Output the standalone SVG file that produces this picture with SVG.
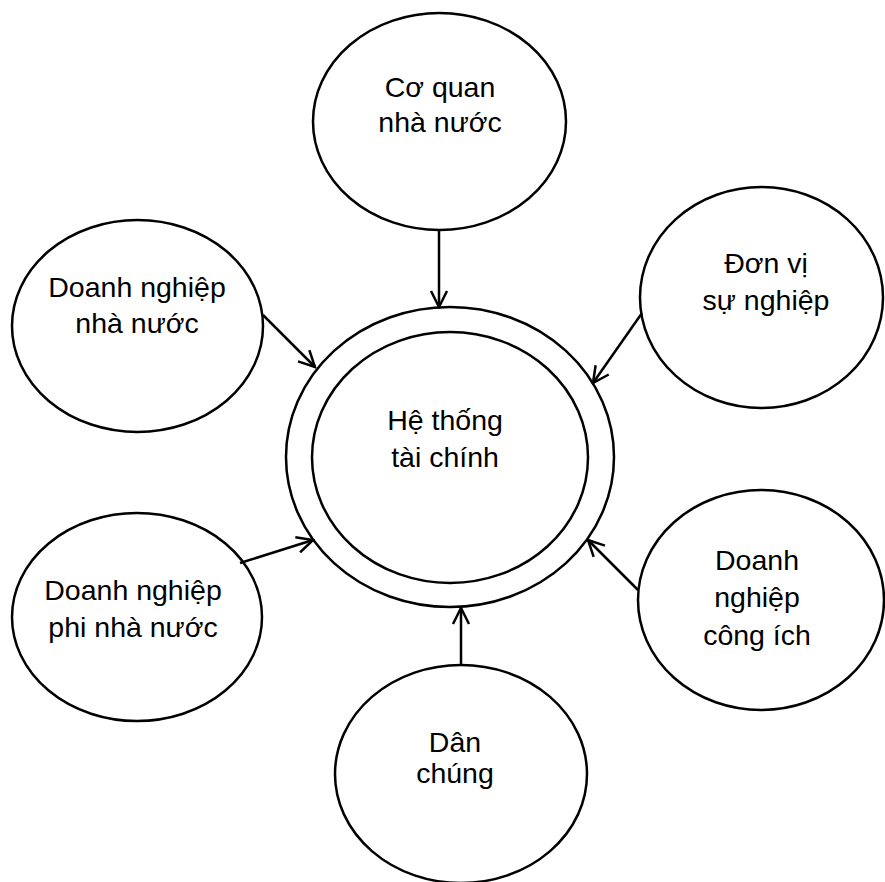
<svg xmlns="http://www.w3.org/2000/svg" width="885" height="882" viewBox="0 0 885 882">
<style>
.n{fill:#fff;stroke:#000;stroke-width:2.5}
.t{font-family:"Liberation Sans",Arial,sans-serif;font-size:28.5px;fill:#000;text-anchor:middle}
.c{font-size:28.5px}
.e{stroke:#000;stroke-width:2.5;fill:none}
</style>
<defs>
<marker id="ah" markerUnits="userSpaceOnUse" markerWidth="22" markerHeight="22" viewBox="-20 -11 22 22" refX="0" refY="0" orient="auto">
<path d="M-16,-8 L0,0 L-16,8" fill="none" stroke="#000" stroke-width="2.5"/>
</marker>
</defs>
<rect width="885" height="882" fill="#fff"/>
<g id="center">
<ellipse class="n" cx="450" cy="457" rx="164" ry="150"/>
<ellipse class="n" cx="450" cy="457.5" rx="138" ry="125.5"/>
<text class="t c" x="445" y="430">Hệ thống</text>
<text class="t c" x="445" y="467">tài chính</text>
</g>
<g id="co-quan">
<ellipse class="n" cx="439.5" cy="121.5" rx="126.5" ry="108.5"/>
<text class="t" x="440" y="97">Cơ quan</text>
<text class="t" x="440" y="132">nhà nước</text>
</g>
<g id="dn-nha-nuoc">
<ellipse class="n" cx="137.5" cy="326" rx="125.5" ry="106"/>
<text class="t" x="137" y="297">Doanh nghiệp</text>
<text class="t" x="137" y="333">nhà nước</text>
</g>
<g id="don-vi">
<ellipse class="n" cx="761.5" cy="297.5" rx="121.5" ry="110.5"/>
<text class="t" x="766" y="273">Đơn vị</text>
<text class="t" x="766" y="310">sự nghiệp</text>
</g>
<g id="dn-phi">
<ellipse class="n" cx="137" cy="617" rx="125" ry="104"/>
<text class="t" x="133" y="600">Doanh nghiệp</text>
<text class="t" x="133" y="637">phi nhà nước</text>
</g>
<g id="dn-cong-ich">
<ellipse class="n" cx="761" cy="600" rx="123" ry="110"/>
<text class="t" x="757" y="570">Doanh</text>
<text class="t" x="757" y="607">nghiệp</text>
<text class="t" x="757" y="645">công ích</text>
</g>
<g id="dan-chung">
<ellipse class="n" cx="461" cy="774" rx="126" ry="109"/>
<text class="t" x="455" y="752">Dân</text>
<text class="t" x="455" y="783">chúng</text>
</g>
<g id="connectors">
<line class="e" x1="439" y1="230" x2="439" y2="307" marker-end="url(#ah)"/>
<line class="e" x1="263" y1="315" x2="315" y2="367" marker-end="url(#ah)"/>
<line class="e" x1="642" y1="313" x2="593" y2="383" marker-end="url(#ah)"/>
<line class="e" x1="240" y1="563" x2="313" y2="540" marker-end="url(#ah)"/>
<line class="e" x1="638" y1="590" x2="588" y2="540" marker-end="url(#ah)"/>
<line class="e" x1="461" y1="665" x2="461" y2="608" marker-end="url(#ah)"/>
</g>
</svg>
